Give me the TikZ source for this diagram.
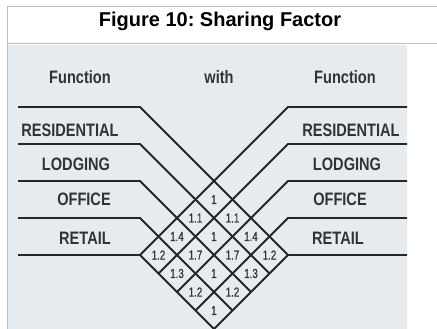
\documentclass[tikz,border=0pt]{standalone}
\usepackage{fontspec}
\setmainfont{Liberation Sans}
\newfontfamily\narrowfont[FakeStretch=0.81]{Liberation Sans}
\newfontfamily\cellfont[FakeStretch=0.75,FakeBold=0.6]{Liberation Sans}
\frenchspacing
\definecolor{panel}{HTML}{E6EBEF}
\definecolor{frameline}{HTML}{BDBDBD}
\definecolor{ink}{HTML}{262626}
\definecolor{word}{HTML}{333333}
\tikzset{
  lane/.style={ink,line width=1.8pt},
  fn/.style={anchor=base,text=word,inner sep=0pt,
    font=\narrowfont\bfseries\fontsize{18}{18}\selectfont},
  cell/.style={text=word,inner sep=0pt,
    font=\cellfont\fontsize{13}{13}\selectfont},
}
\begin{document}
\begin{tikzpicture}[x=1pt,y=-1pt]
\useasboundingbox (0,0) rectangle (437,329);
\fill[panel] (8,45) rectangle (407,329);
\draw[frameline,line width=1pt] (437,7) -- (7,7) -- (7,329) (7,44) -- (437,44);
\node[anchor=base,font=\bfseries\fontsize{20}{20}\selectfont] (title) at (220,27)
  {Figure 10: Sharing Factor};
% heads
\node[fn] (fnL) at (80,84) {Function};
\node[fn] (with) at (219,84) {with};
\node[fn] (fnR) at (345,84) {Function};
% lanes
\foreach \k in {0,...,4} {
  \coordinate (ls\k) at (18,107+37*\k);
  \coordinate (lb\k) at (140,107+37*\k);
  \coordinate (rs\k) at (407,107+37*\k);
  \coordinate (rb\k) at (288,107+37*\k);
}
\foreach \k [evaluate=\k as \d using 148-18.5*\k] in {0,...,4} {
  \draw[lane] (ls\k) -- (lb\k) -- ++(\d,\d);
  \draw[lane] (rs\k) -- (rb\k) -- ++(-\d,\d);
}
% function names
\node[fn] (resL) at (70,136) {RESIDENTIAL};
\node[fn] (lodL) at (76,170) {LODGING};
\node[fn] (offL) at (84,205) {OFFICE};
\node[fn] (retL) at (85,244) {RETAIL};
\node[fn] (resR) at (351,136) {RESIDENTIAL};
\node[fn] (lodR) at (347,170) {LODGING};
\node[fn] (offR) at (340,205) {OFFICE};
\node[fn] (retR) at (338,244) {RETAIL};
% factors
\foreach \i/\j/\v in {0/0/1, 0/1/1.1, 1/0/1.1, 2/0/1.4, 1/1/1, 0/2/1.4,
    3/0/1.2, 2/1/1.7, 1/2/1.7, 0/3/1.2, 3/1/1.3, 2/2/1, 1/3/1.3,
    3/2/1.2, 2/3/1.2, 3/3/1}
  \node[cell] (c\i\j) at (214+18.5*\j-18.5*\i,199.5+18.5*\i+18.5*\j) {\v};
\end{tikzpicture}
\end{document}
